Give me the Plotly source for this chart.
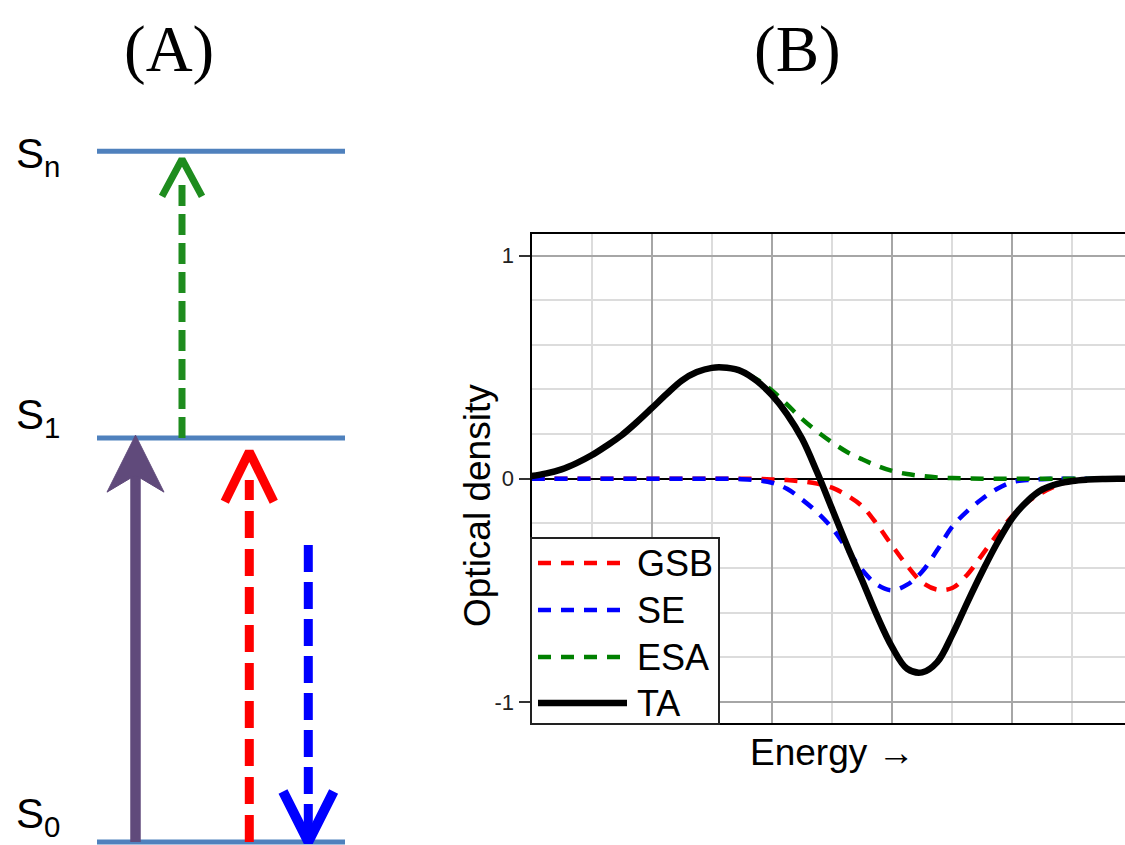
import plotly.graph_objects as go

# ---------------- Panel B data (transient absorption spectra) ----------------
energy = [0.0, 0.125, 0.25, 0.375, 0.5, 0.625, 0.75, 0.875, 1.0, 1.125,
          1.25, 1.375, 1.5, 1.625, 1.75, 1.875, 2.0, 2.125, 2.25, 2.375,
          2.5, 2.625, 2.75, 2.875, 3.0, 3.125, 3.25, 3.375, 3.5, 3.625,
          3.75, 3.875, 4.0, 4.125, 4.25, 4.375, 4.5, 4.625, 4.75, 4.875, 5.0]
gsb = [0, 0, 0, 0, 0, 0, 0, 0, 0, 0, 0, 0, 0, 0, 0, 0,
       -0.003, -0.006, -0.012, -0.022, -0.04, -0.075, -0.123, -0.205, -0.30,
       -0.39, -0.465, -0.497, -0.49, -0.43, -0.34, -0.25, -0.167, -0.105,
       -0.062, -0.03, -0.008, -0.002, 0, 0, 0]
se = [0, 0, 0, 0, 0, 0, 0, 0, 0, 0, 0, 0, 0, 0,
      -0.002, -0.007, -0.018, -0.045, -0.093, -0.15, -0.221, -0.315, -0.409,
      -0.475, -0.50, -0.475, -0.416, -0.32, -0.215, -0.145, -0.09, -0.045,
      -0.015, -0.006, -0.002, 0, 0, 0, 0, 0, 0]
esa = [0.012, 0.024, 0.042, 0.07, 0.105, 0.148, 0.195, 0.253, 0.316, 0.38,
       0.44, 0.478, 0.498, 0.498, 0.48, 0.445, 0.395, 0.333, 0.268, 0.212,
       0.163, 0.12, 0.087, 0.058, 0.035, 0.021, 0.012, 0.006, 0.003, 0.001,
       0, 0, 0, 0, 0, 0, 0, 0, 0, 0, 0]
ta = [0.012, 0.024, 0.042, 0.07, 0.105, 0.148, 0.195, 0.253, 0.316, 0.38,
      0.44, 0.478, 0.497, 0.497, 0.481, 0.438, 0.375, 0.29, 0.18, 0.03,
      -0.135, -0.30, -0.455, -0.615, -0.755, -0.852, -0.868, -0.822, -0.70,
      -0.555, -0.416, -0.287, -0.176, -0.10, -0.048, -0.023, -0.01, -0.004,
      -0.001, 0, 0]

series_names = ["GSB", "SE", "ESA", "TA"]
series_colors = ["#ff0000", "#0000ff", "#008000", "#000000"]
y_ticks = [-1, 0, 1]
y_ticktext = ["-1", "0", "1"]

# ---------------- Panel A data (energy-level diagram) ----------------
level_labels = ["S<sub>0</sub>", "S<sub>1</sub>", "S<sub>n</sub>"]
level_energy = [0.0, 1.0, 1.71]
level_label_y = [0.064, 1.05, 1.696]
level_span = [97, 345]
label_x = 14

arrow_names = ["pump", "ESA", "GSB", "SE"]
arrow_x = [135.5, 182, 249.3, 308.3]
arrow_from = [0.0, 1.0, 0.0, 0.735]
arrow_to = [1.007, 1.690, 0.966, 0.0007]
arrow_shaft_end = [0.92, 1.626, 0.896, 0.01]
arrow_colors = ["#604a7b", "#1e8c1e", "#ff0000", "#0000ff"]
arrow_widths = [10.5, 7, 9, 9]
arrow_dash = ["solid", "21px,8px", "27px,11px", "27px,10px"]
head_half_width = [28.5, 20, 24.5, 25.3]
head_length = [0.141, 0.092, 0.124, 0.124]
head_line_width = [0, 7, 9, 10]

FONT = "Liberation Sans, Arial, sans-serif"
SERIF = "Liberation Serif, Times New Roman, serif"
W, H = 1125, 845

fig = go.Figure()

# ---- Panel B traces ----
for name, col, ys in zip(series_names, series_colors, [gsb, se, esa, ta]):
    solid = name == "TA"
    fig.add_trace(go.Scatter(
        x=energy, y=ys, name=name, mode="lines",
        line=dict(color=col, width=6.5 if solid else 4.5,
                  dash="solid" if solid else "13px,10px",
                  shape="spline", smoothing=1.0),
        xaxis="x", yaxis="y", showlegend=False, hoverinfo="skip"))

# ---- Panel A traces ----
lx, ly = [], []
for e in level_energy:
    lx += [level_span[0], level_span[1], None]
    ly += [e, e, None]
fig.add_trace(go.Scatter(x=lx, y=ly, mode="lines",
                         line=dict(color="#4f81bd", width=5),
                         xaxis="x2", yaxis="y2", showlegend=False,
                         hoverinfo="skip"))

for i, nm in enumerate(arrow_names):
    x = arrow_x[i]
    up = arrow_to[i] > arrow_from[i]
    s = 1 if up else -1
    fig.add_trace(go.Scatter(
        x=[x, x], y=[arrow_from[i], arrow_shaft_end[i]], mode="lines",
        line=dict(color=arrow_colors[i], width=arrow_widths[i],
                  dash=arrow_dash[i]),
        xaxis="x2", yaxis="y2", showlegend=False, hoverinfo="skip"))
    hw, hl, tip = head_half_width[i], head_length[i], arrow_to[i]
    if nm == "pump":
        fig.add_trace(go.Scatter(
            x=[x, x + hw, x, x - hw, x],
            y=[tip, tip - hl, tip - 0.099, tip - hl, tip],
            mode="lines", fill="toself", fillcolor=arrow_colors[i],
            line=dict(color=arrow_colors[i], width=1),
            xaxis="x2", yaxis="y2", showlegend=False, hoverinfo="skip"))
    else:
        fig.add_trace(go.Scatter(
            x=[x - hw, x, x + hw], y=[tip - s * hl, tip, tip - s * hl],
            mode="lines",
            line=dict(color=arrow_colors[i], width=head_line_width[i]),
            xaxis="x2", yaxis="y2", showlegend=False, hoverinfo="skip"))

annotations = []
for lab, yv in zip(level_labels, level_label_y):
    annotations.append(dict(text=lab, x=label_x, y=yv, xref="x2", yref="y2",
                            xanchor="left", yanchor="middle", showarrow=False,
                            font=dict(family=FONT, size=42, color="black")))

annotations += [
    dict(text="(A)", x=169 / W, y=1 - 49 / H, xref="paper", yref="paper",
         showarrow=False, xanchor="center", yanchor="middle",
         font=dict(family=SERIF, size=65, color="black")),
    dict(text="(B)", x=797 / W, y=1 - 49 / H, xref="paper", yref="paper",
         showarrow=False, xanchor="center", yanchor="middle",
         font=dict(family=SERIF, size=65, color="black")),
    dict(text="Optical density", x=477 / W, y=1 - 506 / H, xref="paper",
         yref="paper", showarrow=False, textangle=-90, xanchor="center",
         yanchor="middle", font=dict(family=FONT, size=37, color="black")),
    dict(text="Energy \u2192", x=832 / W, y=1 - 752 / H, xref="paper",
         yref="paper", showarrow=False, xanchor="center", yanchor="middle",
         font=dict(family=FONT, size=37, color="black")),
]

# ---- manual legend ----
shapes = [dict(type="rect", xref="paper", yref="paper",
               x0=531 / W, x1=719 / W, y0=1 - 724 / H, y1=1 - 538 / H,
               line=dict(color="#222", width=2), fillcolor="white",
               layer="above")]
leg_y = [563, 610, 657, 703]
for name, col, yy in zip(series_names, series_colors, leg_y):
    solid = name == "TA"
    shapes.append(dict(type="line", xref="paper", yref="paper",
                       x0=538 / W, x1=(627 if solid else 622) / W,
                       y0=1 - yy / H, y1=1 - yy / H, layer="above",
                       line=dict(color=col, width=6.5 if solid else 4.5,
                                 dash="solid" if solid else "13px,10px")))
    annotations.append(dict(text=name, x=635 / W, y=1 - yy / H, xref="paper",
                            yref="paper", showarrow=False, xanchor="left",
                            yanchor="middle",
                            font=dict(family=FONT, size=36, color="black")))

fig.update_layout(
    width=W, height=H, margin=dict(l=0, r=0, t=0, b=0),
    paper_bgcolor="white", plot_bgcolor="white", showlegend=False,
    xaxis=dict(domain=[531.5 / W, 1.0], range=[0, 4.937], anchor="y",
               tick0=0, dtick=1, showgrid=True, gridcolor="#a6a6a6",
               gridwidth=2,
               minor=dict(dtick=0.5, showgrid=True, gridcolor="#dcdcdc",
                          gridwidth=2),
               showticklabels=False, ticks="", zeroline=False,
               showline=True, linecolor="black", linewidth=2, mirror=True),
    yaxis=dict(domain=[1 - 723 / H, 1 - 234 / H], range=[-1.095, 1.097],
               anchor="x", tickvals=y_ticks, ticktext=y_ticktext,
               ticks="outside", ticklen=11, tickwidth=2, tickcolor="#333",
               tickfont=dict(family=FONT, size=22, color="#222"),
               showgrid=True, gridcolor="#a6a6a6", gridwidth=2,
               minor=dict(dtick=0.2, tick0=0, showgrid=True,
                          gridcolor="#dcdcdc", gridwidth=2),
               zeroline=True, zerolinecolor="black", zerolinewidth=2,
               showline=True, linecolor="black", linewidth=2, mirror=False),
    yaxis3=dict(overlaying="y", anchor="x", side="left",
                range=[-1.095, 1.097], tickvals=[-1, 1], ticks="inside",
                ticklen=11, tickwidth=2, tickcolor="#333",
                showticklabels=False, showgrid=False, zeroline=False,
                showline=False),
    xaxis2=dict(domain=[0, 360 / W], range=[0, 360], anchor="y2",
                visible=False),
    yaxis2=dict(domain=[0, 1], range=[-3 / 404, 842 / 404], anchor="x2",
                visible=False),
    annotations=annotations, shapes=shapes,
)

fig.write_html("out.html", config={"displayModeBar": False},
               post_script="document.body.style.margin='0px';")
